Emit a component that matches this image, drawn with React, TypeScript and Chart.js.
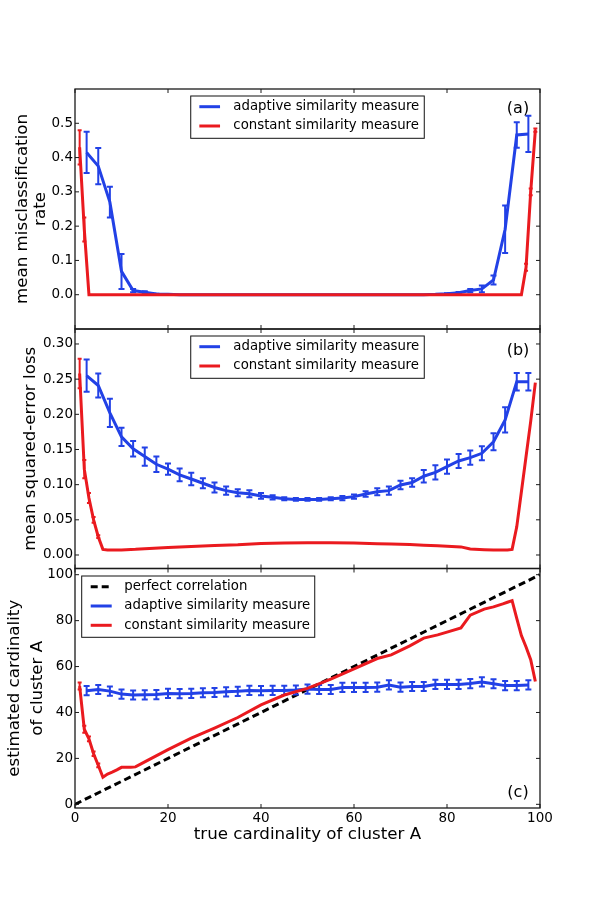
import React, { useEffect, useRef } from 'react';
import { Chart, registerables } from 'chart.js';

Chart.register(...registerables);

const FONT = "'DejaVu Sans', 'Bitstream Vera Sans', sans-serif";
const BLUE = '#2241e6';
const RED = '#ea1a1f';
const BLACK = '#000000';

const LABEL_PERFECT = 'perfect correlation';
const LABEL_ADAPTIVE = 'adaptive similarity measure';
const LABEL_CONSTANT = 'constant similarity measure';

const X_TICKS = [0, 20, 40, 60, 80, 100];
const Y_TICKS_A = [0, 0.1, 0.2, 0.3, 0.4, 0.5];
const Y_TICKS_B = [0, 0.05, 0.1, 0.15, 0.2, 0.25, 0.3];
const Y_TICKS_C = [0, 20, 40, 60, 80, 100];

// adaptive similarity measure (blue), sampled every 2.5
const BLUE_X = [2.5, 5, 7.5, 10, 12.5, 15, 17.5, 20, 22.5, 25, 27.5, 30, 32.5, 35, 37.5, 40, 42.5, 45, 47.5, 50,
  52.5, 55, 57.5, 60, 62.5, 65, 67.5, 70, 72.5, 75, 77.5, 80, 82.5, 85, 87.5, 90, 92.5, 95, 97.5];

const BLUE_A = [0.415, 0.375, 0.27, 0.068, 0.012, 0.007, 0.002, 0.001, 0, 0,
  0, 0, 0, 0, 0, 0, 0, 0, 0, 0,
  0, 0, 0, 0, 0, 0, 0, 0, 0, 0,
  0.001, 0.003, 0.006, 0.012, 0.017, 0.043, 0.191, 0.466, 0.469];
const BLUE_A_ERR = [0.06, 0.053, 0.045, 0.051, 0.005, 0.003, 0.001, 0, 0, 0,
  0, 0, 0, 0, 0, 0, 0, 0, 0, 0,
  0, 0, 0, 0, 0, 0, 0, 0, 0, 0,
  0, 0.001, 0.002, 0.005, 0.01, 0.013, 0.069, 0.037, 0.053];

const BLUE_B = [0.255, 0.241, 0.202, 0.168, 0.151, 0.14, 0.129, 0.122, 0.114, 0.108,
  0.102, 0.096, 0.0915, 0.0886, 0.087, 0.084, 0.082, 0.08, 0.079, 0.079,
  0.079, 0.08, 0.081, 0.083, 0.0867, 0.09, 0.0915, 0.0995, 0.103, 0.112,
  0.1175, 0.1256, 0.1336, 0.1384, 0.1446, 0.161, 0.192, 0.2464, 0.2464];
const BLUE_B_ERR = [0.023, 0.017, 0.02, 0.013, 0.011, 0.013, 0.011, 0.008, 0.009, 0.009,
  0.007, 0.007, 0.006, 0.005, 0.005, 0.004, 0.003, 0.002, 0.002, 0.002,
  0.002, 0.002, 0.003, 0.003, 0.004, 0.005, 0.006, 0.006, 0.006, 0.009,
  0.01, 0.01, 0.01, 0.01, 0.01, 0.012, 0.018, 0.0125, 0.0125];

const BLUE_C = [49.5, 50, 49.3, 48, 47.6, 47.7, 47.8, 48.3, 48.2, 48.3,
  48.6, 48.7, 49.0, 49.2, 49.6, 49.5, 49.6, 49.6, 49.8, 50.2,
  50, 50, 50.9, 50.9, 50.9, 51.0, 52.0, 51.0, 51.3, 51.3,
  52.2, 52.2, 52.2, 52.6, 53.3, 52.5, 51.7, 51.7, 52.0];
const BLUE_C_ERR = [2, 2, 2, 2, 2, 2, 2, 2, 2, 2,
  2, 2, 2, 2, 2, 2, 2, 2, 2, 2,
  2, 2, 2, 2, 2, 2, 2, 2, 2, 2,
  2, 2, 2, 2, 2, 2, 2, 2, 2];

// constant similarity measure (red)
const RED_X = [1, 2, 3, 4, 5, 6, 7, 8, 9, 10, 12, 13, 15, 20, 25, 30, 35, 40, 45, 50,
  55, 60, 65, 68, 72, 75, 78, 80, 83, 85, 88, 90, 92, 93, 94, 95, 96, 97, 98, 99];

const RED_A = [0.43, 0.19, 0, 0, 0, 0, 0, 0, 0, 0, 0, 0, 0, 0, 0, 0, 0, 0, 0, 0,
  0, 0, 0, 0, 0, 0, 0, 0, 0, 0, 0, 0, 0, 0, 0, 0, 0, 0.08, 0.3, 0.48];
const RED_A_ERR = [0.05, 0.035, 0, 0, 0, 0, 0, 0, 0, 0, 0, 0, 0, 0, 0, 0, 0, 0, 0, 0,
  0, 0, 0, 0, 0, 0, 0, 0, 0, 0, 0, 0, 0, 0, 0, 0, 0, 0.01, 0.01, 0.005];

const RED_B = [0.258, 0.122, 0.081, 0.05, 0.026, 0.008, 0.007, 0.007, 0.007, 0.0072,
  0.0078, 0.008, 0.009, 0.0105, 0.012, 0.0135, 0.0145, 0.0165, 0.017, 0.0175,
  0.0175, 0.017, 0.016, 0.0155, 0.015, 0.014, 0.013, 0.0125, 0.0115, 0.0085,
  0.0075, 0.007, 0.007, 0.007, 0.008, 0.04, 0.09, 0.14, 0.19, 0.245];
const RED_B_ERR = [0.021, 0.013, 0.007, 0.004, 0.002, 0, 0, 0, 0, 0,
  0, 0, 0, 0, 0, 0, 0, 0, 0, 0,
  0, 0, 0, 0, 0, 0, 0, 0, 0, 0,
  0, 0, 0, 0, 0, 0, 0, 0, 0, 0];

const RED_C = [51.5, 32.7, 28.5, 22, 17, 11.8, 13.2, 14, 15, 16.1,
  16.1, 16.3, 18.5, 23.8, 28.8, 33.2, 37.8, 43.3, 47.6, 50.5,
  54.5, 59, 63.5, 65.1, 69, 72.4, 73.8, 75, 76.8, 82.4,
  85, 86, 87.3, 88, 88.7, 81, 73.5, 68.5, 63, 53.5];
const RED_C_ERR = [1.5, 1.5, 1, 1, 0.8, 0, 0, 0, 0, 0,
  0, 0, 0, 0, 0, 0, 0, 0, 0, 0,
  0, 0, 0, 0, 0, 0, 0, 0, 0, 0,
  0, 0, 0, 0, 0, 0, 0, 0, 0, 0];

// perfect correlation (black dashed)
const PERFECT_X = [0, 100];
const PERFECT_Y = [0, 100];

const toPoints = (xs: number[], ys: number[]) => xs.map((x, i) => ({ x, y: ys[i] }));

const frameTicksPlugin = {
  id: 'frameTicks',
  afterDraw(chart: any, _args: any, opts: any) {
    const { ctx, chartArea: a, scales } = chart;
    ctx.save();
    ctx.strokeStyle = '#1a1a1a';
    ctx.lineWidth = 1;
    const len = 4;
    ctx.beginPath();
    for (const v of opts.xTicks) {
      const px = scales.x.getPixelForValue(v);
      ctx.moveTo(px, a.bottom);
      ctx.lineTo(px, a.bottom - len);
      ctx.moveTo(px, a.top);
      ctx.lineTo(px, a.top + len);
    }
    for (const v of opts.yTicks) {
      const py = scales.y.getPixelForValue(v);
      ctx.moveTo(a.left, py);
      ctx.lineTo(a.left + len, py);
      ctx.moveTo(a.right, py);
      ctx.lineTo(a.right - len, py);
    }
    ctx.stroke();
    ctx.lineWidth = 1.3;
    ctx.strokeRect(a.left, a.top, a.right - a.left, a.bottom - a.top);
    ctx.restore();
  },
};

const errorBarPlugin = {
  id: 'errorBars',
  afterDatasetDraw(chart: any, args: any) {
    const ds = chart.data.datasets[args.index];
    const errs = ds.errors;
    if (!errs) return;
    const { ctx, chartArea: a, scales } = chart;
    ctx.save();
    ctx.beginPath();
    ctx.rect(a.left, a.top, a.right - a.left, a.bottom - a.top);
    ctx.clip();
    ctx.strokeStyle = ds.borderColor;
    ctx.lineWidth = ds.errorWidth || 2;
    const cap = ds.capHalf || 0;
    ctx.beginPath();
    ds.data.forEach((p: any, i: number) => {
      const e = errs[i];
      if (!e) return;
      const px = scales.x.getPixelForValue(p.x);
      const y1 = scales.y.getPixelForValue(p.y - e);
      const y2 = scales.y.getPixelForValue(p.y + e);
      ctx.moveTo(px, y1);
      ctx.lineTo(px, y2);
      if (cap) {
        ctx.moveTo(px - cap, y1);
        ctx.lineTo(px + cap, y1);
        ctx.moveTo(px - cap, y2);
        ctx.lineTo(px + cap, y2);
      }
    });
    ctx.stroke();
    ctx.restore();
  },
};

const boxLegendPlugin = {
  id: 'boxLegend',
  afterDraw(chart: any, _args: any, o: any) {
    const { ctx, chartArea: a } = chart;
    const ds = chart.data.datasets;
    ctx.save();
    ctx.font = `${o.fontSize}px ${FONT}`;
    const textW = Math.max(...ds.map((d: any) => ctx.measureText(d.label).width));
    const w = o.padLeft + o.sample + o.gap + textW + o.padRight;
    const h = o.padTop + o.rowH * (ds.length - 1) + o.padBottom;
    const left = o.align === 'center' ? (a.left + a.right) / 2 - w / 2 : a.left + o.offsetX;
    const top = a.top + o.offsetY;
    ctx.fillStyle = '#ffffff';
    ctx.fillRect(left, top, w, h);
    ctx.strokeStyle = '#111111';
    ctx.lineWidth = 1;
    ctx.strokeRect(left, top, w, h);
    ds.forEach((d: any, i: number) => {
      const cy = top + o.padTop + i * o.rowH;
      ctx.beginPath();
      ctx.strokeStyle = d.borderColor;
      ctx.lineWidth = d.borderWidth;
      ctx.setLineDash(d.borderDash || []);
      ctx.moveTo(left + o.padLeft, cy);
      ctx.lineTo(left + o.padLeft + o.sample, cy);
      ctx.stroke();
      ctx.setLineDash([]);
      ctx.fillStyle = '#000000';
      ctx.textBaseline = 'middle';
      ctx.textAlign = 'left';
      ctx.fillText(d.label, left + o.padLeft + o.sample + o.gap, cy);
    });
    ctx.restore();
  },
};

const panelLabelPlugin = {
  id: 'panelLabel',
  afterDraw(chart: any, _args: any, o: any) {
    const { ctx, chartArea: a } = chart;
    ctx.save();
    ctx.font = `${o.fontSize}px ${FONT}`;
    ctx.fillStyle = '#000000';
    ctx.textAlign = 'center';
    ctx.textBaseline = 'middle';
    const y = o.fromBottom ? a.bottom - o.dy : a.top + o.dy;
    ctx.fillText(o.text, a.right - o.dx, y);
    ctx.restore();
  },
};

function lineDs(label: string, color: string, xs: number[], ys: number[], errs: number[] | null, order: number, extra: any = {}) {
  return {
    label,
    data: toPoints(xs, ys),
    borderColor: color,
    backgroundColor: color,
    borderWidth: 3,
    pointRadius: 0,
    tension: 0,
    fill: false,
    order,
    errors: errs,
    ...extra,
  };
}

const legendCenter = {
  fontSize: 13.3, align: 'center', offsetX: 0, offsetY: 7,
  padLeft: 8.6, sample: 20.7, gap: 13.3, padRight: 5, padTop: 10.7, rowH: 19.3, padBottom: 12.3,
};
const legendLeft = {
  fontSize: 13.3, align: 'left', offsetX: 6.7, offsetY: 7.5,
  padLeft: 9, sample: 21, gap: 12.6, padRight: 4.5, padTop: 10.7, rowH: 19.3, padBottom: 12,
};

const X_AXIS_H = 42;

function makeConfig(p: any) {
  return {
    type: 'line',
    data: { datasets: p.datasets },
    options: {
      animation: false,
      responsive: false,
      maintainAspectRatio: false,
      layout: { padding: { left: 0, right: 60, top: p.top, bottom: p.bottom } },
      plugins: {
        legend: { display: false },
        tooltip: { enabled: false },
        title: { display: false },
        frameTicks: { xTicks: X_TICKS, yTicks: p.yTicks },
        boxLegend: p.legend,
        panelLabel: p.panel,
      },
      scales: {
        x: {
          type: 'linear',
          min: 0,
          max: 100,
          display: p.showX,
          grid: { display: false, drawTicks: false },
          border: { display: false },
          afterBuildTicks: (s: any) => { s.ticks = X_TICKS.map((v) => ({ value: v })); },
          afterFit: (s: any) => { s.height = p.showX ? X_AXIS_H : 0; },
          ticks: {
            autoSkip: false,
            maxRotation: 0,
            padding: 2.2,
            color: BLACK,
            font: { family: FONT, size: 13.5 },
            callback: (v: any) => String(v),
          },
          title: {
            display: true,
            text: 'true cardinality of cluster A',
            color: BLACK,
            font: { family: FONT, size: 16.7, lineHeight: 1.2 },
            padding: { top: 0, bottom: 5 },
          },
        },
        y: {
          type: 'linear',
          min: p.yMin,
          max: p.yMax,
          grid: { display: false, drawTicks: false },
          border: { display: false },
          afterBuildTicks: (s: any) => { s.ticks = p.yTicks.map((v: number) => ({ value: v })); },
          afterFit: (s: any) => { s.width = 75; },
          ticks: {
            autoSkip: false,
            padding: 2,
            color: BLACK,
            font: { family: FONT, size: 13.5 },
            callback: p.fmt,
          },
          title: {
            display: true,
            text: p.yTitle,
            color: BLACK,
            font: { family: FONT, size: 16.7, lineHeight: p.titleLH },
            padding: { top: p.titlePad, bottom: 0 },
          },
        },
      },
    },
    plugins: [frameTicksPlugin, errorBarPlugin, boxLegendPlugin, panelLabelPlugin],
  };
}

const blueExtra = { errorWidth: 2, capHalf: 3 };
const redExtra = { errorWidth: 2, capHalf: 2 };

const configA = () => makeConfig({
  top: 89, bottom: 899 - 329, showX: false,
  yMin: -0.1, yMax: 0.6, yTicks: Y_TICKS_A, fmt: (v: any) => Number(v).toFixed(1),
  yTitle: ['mean misclassification', 'rate'], titleLH: 1.12, titlePad: 13,
  legend: legendCenter,
  panel: { text: '(a)', fontSize: 16, dx: 22, dy: 19.8, fromBottom: false },
  datasets: [
    lineDs(LABEL_ADAPTIVE, BLUE, BLUE_X, BLUE_A, BLUE_A_ERR, 2, blueExtra),
    lineDs(LABEL_CONSTANT, RED, RED_X, RED_A, RED_A_ERR, 1, redExtra),
  ],
});

const configB = () => makeConfig({
  top: 329, bottom: 899 - 568.5, showX: false,
  yMin: -0.0192, yMax: 0.3213, yTicks: Y_TICKS_B, fmt: (v: any) => Number(v).toFixed(2),
  yTitle: 'mean squared-error loss', titleLH: 1.2, titlePad: 20.5,
  legend: legendCenter,
  panel: { text: '(b)', fontSize: 16, dx: 22, dy: 21.8, fromBottom: false },
  datasets: [
    lineDs(LABEL_ADAPTIVE, BLUE, BLUE_X, BLUE_B, BLUE_B_ERR, 2, blueExtra),
    lineDs(LABEL_CONSTANT, RED, RED_X, RED_B, RED_B_ERR, 1, redExtra),
  ],
});

const configC = () => makeConfig({
  top: 568.5, bottom: 899 - 808 - X_AXIS_H, showX: true,
  yMin: -1.6, yMax: 102.7, yTicks: Y_TICKS_C, fmt: (v: any) => String(v),
  yTitle: ['estimated cardinality', 'of cluster A'], titleLH: 1.36, titlePad: 3.65,
  legend: legendLeft,
  panel: { text: '(c)', fontSize: 16, dx: 22, dy: 15.5, fromBottom: true },
  datasets: [
    lineDs(LABEL_PERFECT, BLACK, PERFECT_X, PERFECT_Y, null, 3, { borderDash: [7, 4] }),
    lineDs(LABEL_ADAPTIVE, BLUE, BLUE_X, BLUE_C, BLUE_C_ERR, 2, blueExtra),
    lineDs(LABEL_CONSTANT, RED, RED_X, RED_C, RED_C_ERR, 1, redExtra),
  ],
});

function Panel({ make }: { make: () => any }) {
  const ref = useRef<HTMLCanvasElement>(null);
  useEffect(() => {
    const chart = new Chart(ref.current as HTMLCanvasElement, make() as any);
    return () => chart.destroy();
  }, []);
  return (
    <canvas
      ref={ref}
      width={600}
      height={899}
      style={{ position: 'absolute', left: 0, top: 0, width: 600, height: 899 }}
    />
  );
}

export default function App() {
  return (
    <div style={{ position: 'absolute', left: 0, top: 0, width: 600, height: 899, background: '#ffffff' }}>
      <Panel make={configA} />
      <Panel make={configB} />
      <Panel make={configC} />
    </div>
  );
}
